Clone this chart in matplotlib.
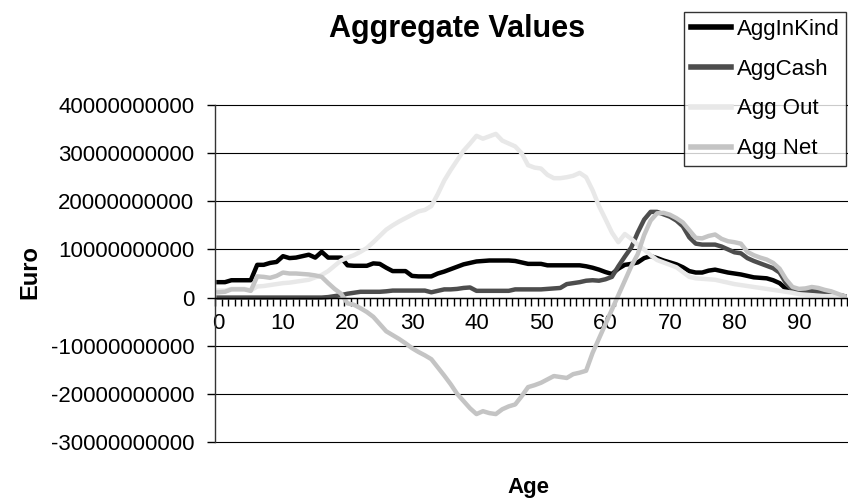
import matplotlib
matplotlib.use('Agg')
import matplotlib.pyplot as plt
import numpy as np

age = np.arange(98)

agg_in_kind = [3.2, 3.2, 3.6, 3.6, 3.6, 3.6, 6.8, 6.8, 7.2, 7.4,
               8.6, 8.2, 8.3, 8.6, 8.9, 8.3, 9.5, 8.3, 8.3, 8.3,
               6.7, 6.6, 6.6, 6.6, 7.1, 7.0, 6.2, 5.5, 5.5, 5.5,
               4.5, 4.4, 4.4, 4.4, 5.0, 5.4, 5.9, 6.4, 6.9, 7.2,
               7.5, 7.6, 7.7, 7.7, 7.7, 7.7, 7.6, 7.3, 7.0, 7.0,
               7.0, 6.7, 6.7, 6.7, 6.7, 6.7, 6.7, 6.5, 6.2, 5.8,
               5.3, 4.9, 6.0, 6.8, 7.0, 7.3, 8.2, 8.6, 8.2, 7.7,
               7.3, 6.9, 6.3, 5.5, 5.2, 5.2, 5.6, 5.8, 5.5, 5.2,
               5.0, 4.8, 4.5, 4.2, 4.1, 4.0, 3.6, 3.0, 1.8, 1.5,
               1.4, 1.4, 1.4, 1.2, 1.0, 0.8, 0.5, 0.3]

agg_cash = [0.0, 0.0, 0.0, 0.0, 0.0, 0.0, 0.0, 0.0, 0.0, 0.0,
            0.0, 0.0, 0.0, 0.0, 0.0, 0.0, 0.0, 0.1, 0.3, 0.5,
            0.8, 1.0, 1.2, 1.2, 1.2, 1.2, 1.3, 1.45, 1.45, 1.45,
            1.45, 1.45, 1.45, 1.1, 1.4, 1.7, 1.7, 1.8, 2.0, 2.1,
            1.4, 1.4, 1.4, 1.4, 1.4, 1.4, 1.7, 1.7, 1.7, 1.7,
            1.7, 1.8, 1.9, 2.0, 2.8, 3.0, 3.2, 3.5, 3.6, 3.5,
            3.8, 4.3, 6.5, 8.5, 10.4, 13.5, 16.2, 17.8, 17.8, 17.3,
            16.8, 16.0, 14.8, 12.5, 11.2, 11.0, 11.0, 11.0, 10.6, 10.0,
            9.4, 9.2, 8.2, 7.6, 7.1, 6.6, 6.1, 5.2, 3.0, 1.6,
            1.5, 1.4, 1.4, 1.2, 1.0, 0.8, 0.5, 0.3]

agg_out = [1.45, 1.45, 1.8, 1.8, 1.8, 1.5, 2.3, 2.4, 2.6, 2.8,
           3.0, 3.1, 3.3, 3.5, 3.7, 4.2, 4.7, 5.5, 6.6, 7.7,
           8.3, 8.8, 9.5, 10.3, 11.5, 12.8, 14.1, 15.0, 15.8, 16.5,
           17.2, 17.9, 18.2, 19.0, 21.5, 24.3, 26.5, 28.5, 30.5, 32.0,
           33.6, 33.0, 33.5, 34.0, 32.6, 32.0, 31.4, 30.0, 27.5, 27.0,
           26.8, 25.5, 24.8, 24.8, 25.0, 25.3, 25.9, 25.0, 22.3, 19.0,
           16.3, 13.5, 11.5, 13.2, 12.2, 11.0, 10.0, 8.8, 7.8, 7.3,
           6.8, 6.3, 5.3, 4.3, 4.0, 3.9, 3.8, 3.7, 3.4, 3.1,
           2.8, 2.6, 2.4, 2.2, 2.0, 1.8, 1.6, 1.4, 1.2, 1.0,
           0.7, 0.6, 0.5, 0.4, 0.3, 0.3, 0.2, 0.2]

agg_net = [1.1, 1.2, 1.7, 1.7, 1.7, 1.4, 4.4, 4.3, 4.1, 4.5,
           5.2, 5.0, 5.0, 4.9, 4.8, 4.6, 4.3, 3.0, 1.8, 0.8,
           -1.2, -1.5, -2.2, -3.0, -4.0, -5.5, -7.0, -7.8, -8.6, -9.5,
           -10.5, -11.3, -12.0, -12.8, -14.5, -16.2, -18.0, -20.0, -21.5, -23.0,
           -24.2, -23.6, -24.0, -24.2, -23.2, -22.6, -22.2, -20.5, -18.6, -18.2,
           -17.7, -17.0, -16.3, -16.5, -16.7, -15.9, -15.6, -15.2, -11.5, -8.5,
           -5.5, -2.5, 0.5, 3.5, 6.5, 9.0, 13.0, 16.0, 17.5, 17.6,
           17.2, 16.5, 15.6, 14.0, 12.4, 12.3, 12.8, 13.1, 12.2, 11.7,
           11.5, 11.2, 9.5, 8.8, 8.3, 7.9, 7.2, 6.0, 3.8, 2.2,
           1.8, 1.9, 2.2, 2.0, 1.6, 1.3, 0.8, 0.3]

series_names = ['AggInKind', 'AggCash', 'Agg Out', 'Agg Net']
series_colors = ['#000000', '#4d4d4d', '#e8e8e8', '#c4c4c4']

y_ticks = [-30e9, -20e9, -10e9, 0, 10e9, 20e9, 30e9, 40e9]
y_labels = ['-30000000000', '-20000000000', '-10000000000', '0',
            '10000000000', '20000000000', '30000000000', '40000000000']
x_label_pos = [0, 10, 20, 30, 40, 50, 60, 70, 80, 90]

plt.rcParams['font.family'] = ['Liberation Sans', 'DejaVu Sans']

fig = plt.figure(figsize=(8.48, 5.04), dpi=100)
ax = fig.add_axes([215.3 / 848, 1 - 442 / 504, (847.3 - 215.3) / 848, (442 - 105) / 504])

data = [agg_in_kind, agg_cash, agg_out, agg_net]
for vals, name, col in zip(data, series_names, series_colors):
    ax.plot(age, np.array(vals) * 1e9, color=col, linewidth=3.2, label=name,
            solid_joinstyle='round', clip_on=False)

ax.set_xlim(-0.5, 97.5)
ax.set_ylim(-30e9, 40e9)

# Gitterlinien
for yt in y_ticks:
    ax.axhline(yt, color='black', linewidth=0.8, zorder=0.5, clip_on=False)

for s in ['top', 'right']:
    ax.spines[s].set_visible(False)
ax.spines['bottom'].set_position(('data', 0))
ax.spines['bottom'].set_linewidth(1.0)
ax.spines['left'].set_linewidth(1.0)
ax.spines['left'].set_color('#333333')

ax.set_yticks(y_ticks, labels=y_labels)
ax.tick_params(axis='y', direction='out', length=6, width=1, pad=9, labelsize=16)

ax.set_xticks(np.arange(-0.5, 98, 1), labels=[])
ax.tick_params(axis='x', which='major', direction='out', length=6, width=1)
ax.set_xticks(x_label_pos, labels=[str(v) for v in x_label_pos], minor=True)
ax.tick_params(axis='x', which='minor', length=0, pad=11, labelsize=16)

fig.text(457 / 848, 1 - 37 / 504, 'Aggregate Values', ha='center', va='baseline',
         fontsize=22, fontweight='bold')
fig.text(30 / 848, 1 - 272 / 504, 'Euro', rotation=90, ha='center', va='center',
         fontsize=17, fontweight='bold')
fig.text(528 / 848, 1 - 487 / 504, 'Age', ha='center', va='center',
         fontsize=16, fontweight='bold')

leg = fig.legend(loc='upper right', bbox_to_anchor=(846 / 848, 1 - 12 / 504),
                 fontsize=16, frameon=True, fancybox=False, handlelength=1.8,
                 handletextpad=0.25, labelspacing=0.85, borderpad=0.3,
                 borderaxespad=0)
leg.get_frame().set_edgecolor('black')
leg.get_frame().set_linewidth(1.0)
for line in leg.get_lines():
    line.set_linewidth(4)

fig.savefig('out.png', dpi=100)
